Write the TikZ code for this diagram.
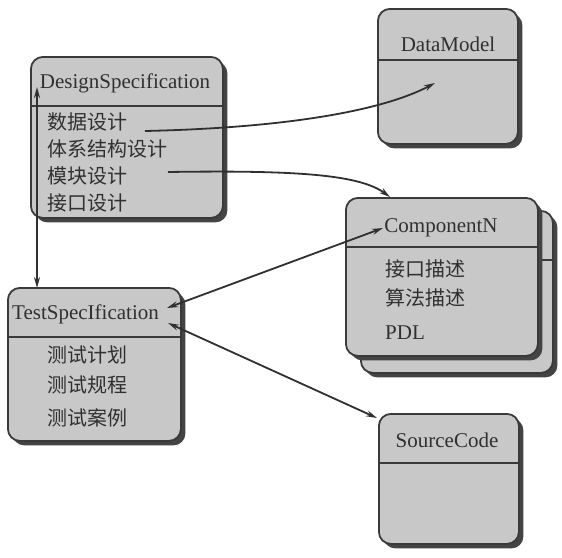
\documentclass[tikz,border=0pt]{standalone}
\usepackage{fontspec}
\setmainfont{Liberation Serif}
\newfontfamily\cjk{Noto Sans CJK SC}
\usetikzlibrary{arrows.meta,shadows}
\definecolor{boxfill}{RGB}{200,200,200}
\definecolor{boxline}{RGB}{58,58,58}
\definecolor{shade}{RGB}{68,68,68}
\definecolor{ink}{RGB}{48,48,48}
\begin{document}
\begin{tikzpicture}[x=1pt,y=-1pt,
  umlbox/.style={draw=boxline, line width=1.8pt, fill=boxfill, rounded corners=12pt,
    anchor=north west, inner sep=0pt,
    drop shadow={shadow xshift=4.5pt, shadow yshift=-4.5pt, fill=shade, opacity=1}},
  divider/.style={draw=boxline, line width=1.8pt},
  title/.style={text=ink, inner sep=0pt, font=\fontsize{21}{24}\selectfont},
  item/.style={text=ink, inner sep=0pt, anchor=west, font=\fontsize{20}{24}\selectfont\cjk},
  latitem/.style={text=ink, inner sep=0pt, anchor=west, font=\fontsize{21}{24}\selectfont},
  tipA/.tip={Stealth[length=11pt,width=6pt]},
  conn/.style={draw=ink, line width=1.8pt},
]
\useasboundingbox (0,0) rectangle (562,557);

% DesignSpecification
\node[umlbox, minimum width=192pt, minimum height=161pt] (ds) at (30,56) {};
\draw[divider] (30,106) -- (222,106);
\node[title, anchor=base] (dst) at (125,88) {DesignSpecification};
\node[item] (ds1) at (47,122) {数据设计};
\node[item] (ds2) at (47,149) {体系结构设计};
\node[item] (ds3) at (47,176) {模块设计};
\node[item] (ds4) at (47,203) {接口设计};

% DataModel
\node[umlbox, minimum width=140pt, minimum height=135pt] (dm) at (377,8) {};
\draw[divider] (377,60) -- (517,60);
\node[title, anchor=base] (dmt) at (448,51) {DataModel};

% ComponentN (stacked)
\node[umlbox, minimum width=192pt, minimum height=162pt] (cnb) at (360,210) {};
\draw[divider] (537,260) -- (552,260);
\node[umlbox, minimum width=192pt, minimum height=158pt] (cn) at (345,197) {};
\draw[divider] (345,247) -- (537,247);
\node[title, anchor=base] (cnt) at (441,232) {ComponentN};
\node[item] (cn1) at (385,269) {接口描述};
\node[item] (cn2) at (385,298) {算法描述};
\node[latitem] (cn3) at (385,333) {PDL};

% TestSpecIfication
\node[umlbox, minimum width=173pt, minimum height=153pt] (ts) at (7,287) {};
\draw[divider] (7,337) -- (180,337);
\node[title, anchor=base west] (tst) at (12,319) {TestSpecIfication};
\node[item] (ts1) at (47,355) {测试计划};
\node[item] (ts2) at (47,385) {测试规程};
\node[item] (ts3) at (47,418) {测试案例};

% SourceCode
\node[umlbox, minimum width=140pt, minimum height=130pt] (sc) at (378,413) {};
\draw[divider] (378,463) -- (518,463);
\node[title, anchor=base] (sct) at (447,447) {SourceCode};

% connector end points
\coordinate (vtop) at (37,87);
\coordinate (vbot) at (37,288);
\coordinate (a1s) at (145,131);
\coordinate (a1e) at (435,83);
\coordinate (a2s) at (168,172);
\coordinate (a2e) at (390,197);
\coordinate (tsc) at (167,308);
\coordinate (cnc) at (383,228);
\coordinate (tss) at (168,323);
\coordinate (scc) at (377,418);

\draw[conn, tipA-tipA] (vbot) -- (vtop);
\draw[conn, -tipA] (a1s) .. controls (280,128) and (380,112) .. (a1e);
\draw[conn, -tipA] (a2s) .. controls (300,170) and (360,175) .. (a2e);
\draw[conn, tipA-tipA] (tsc) -- (cnc);
\draw[conn, tipA-tipA] (tss) -- (scc);
\end{tikzpicture}
\end{document}
